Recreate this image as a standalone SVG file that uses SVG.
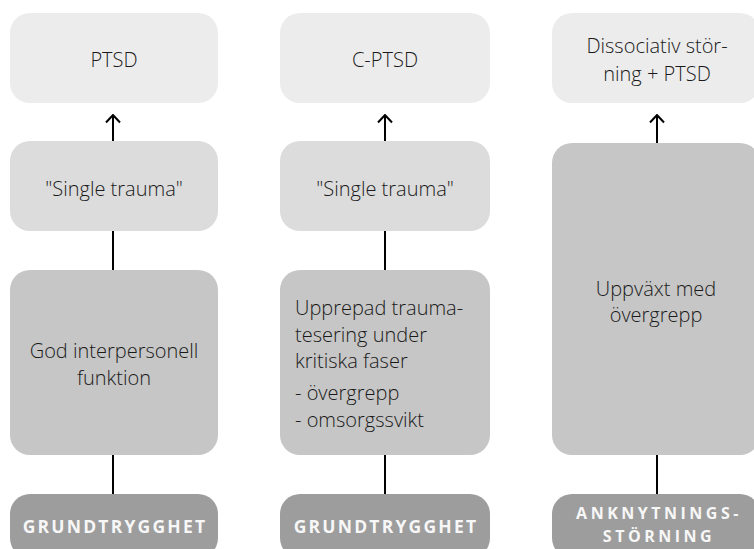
<svg xmlns="http://www.w3.org/2000/svg" width="754" height="549" viewBox="0 0 754 549">
<defs>
<style>
.t{font-family:"Open Sans","Liberation Sans",sans-serif;font-size:20px;fill:#1a1a1a;font-weight:300}
.c{text-anchor:middle}
.lab{font-family:"Open Sans","Liberation Sans",sans-serif;font-size:17.5px;font-weight:700;fill:#f7f7f7;letter-spacing:2.2px;text-anchor:middle}
.lab2{font-size:16px;letter-spacing:3.5px}
.b1{fill:#ececec}
.b2{fill:#dcdcdc}
.b3{fill:#c6c6c6}
.b4{fill:#9d9d9d}
.ln{stroke:#000;stroke-width:2;fill:none}
</style>
<marker id="ah" viewBox="0 0 10 16" refX="8.5" refY="8" markerWidth="10" markerHeight="16" markerUnits="userSpaceOnUse" orient="auto">
<path d="M1,1 L8.5,8 L1,15" fill="none" stroke="#000" stroke-width="2"/>
</marker>
</defs>
<rect width="754" height="549" fill="#fff"/>
<g id="connectors">
<line class="ln" x1="113" y1="141" x2="113" y2="115" marker-end="url(#ah)"/>
<line class="ln" x1="385" y1="141" x2="385" y2="115" marker-end="url(#ah)"/>
<line class="ln" x1="657" y1="143" x2="657" y2="115" marker-end="url(#ah)"/>
<line class="ln" x1="113" y1="231" x2="113" y2="270"/>
<line class="ln" x1="385" y1="231" x2="385" y2="270"/>
<line class="ln" x1="113" y1="455" x2="113" y2="494"/>
<line class="ln" x1="385" y1="455" x2="385" y2="494"/>
<line class="ln" x1="657" y1="455" x2="657" y2="494"/>
</g>
<g id="ptsd">
<rect class="b1" x="10" y="13" width="208" height="90" rx="20"/>
<text class="t c" x="114" y="67">PTSD</text>
</g>
<g id="cptsd">
<rect class="b1" x="280" y="13" width="210" height="90" rx="20"/>
<text class="t c" x="385" y="67">C-PTSD</text>
</g>
<g id="dissociativ">
<rect class="b1" x="552" y="13" width="208" height="90" rx="20"/>
<text class="t c" x="657" y="53">Dissociativ stör-</text>
<text class="t c" x="657" y="81">ning + PTSD</text>
</g>
<g id="single1">
<rect class="b2" x="10" y="141" width="208" height="90" rx="20"/>
<text class="t c" x="114" y="196">"Single trauma"</text>
</g>
<g id="single2">
<rect class="b2" x="280" y="141" width="210" height="90" rx="20"/>
<text class="t c" x="385" y="196">"Single trauma"</text>
</g>
<g id="god">
<rect class="b3" x="10" y="270" width="208" height="185" rx="20"/>
<text class="t c" x="114" y="358">God interpersonell</text>
<text class="t c" x="114" y="385">funktion</text>
</g>
<g id="upprepad">
<rect class="b3" x="280" y="270" width="210" height="185" rx="20"/>
<text class="t" x="295" y="315">Upprepad trauma-</text>
<text class="t" x="295" y="342">tesering under</text>
<text class="t" x="295" y="368">kritiska faser</text>
<text class="t" x="295" y="400">- övergrepp</text>
<text class="t" x="295" y="427">- omsorgssvikt</text>
</g>
<g id="uppvaxt">
<rect class="b3" x="552" y="143" width="208" height="312" rx="20"/>
<text class="t c" x="656" y="296">Uppväxt med</text>
<text class="t c" x="656" y="322">övergrepp</text>
</g>
<g id="grund1">
<rect class="b4" x="10" y="494" width="208" height="64" rx="20"/>
<text class="lab" x="115" y="533">GRUNDTRYGGHET</text>
</g>
<g id="grund2">
<rect class="b4" x="280" y="494" width="210" height="64" rx="20"/>
<text class="lab" x="386" y="533">GRUNDTRYGGHET</text>
</g>
<g id="ankn">
<rect class="b4" x="552" y="494" width="208" height="64" rx="20"/>
<text class="lab lab2" x="659" y="519">ANKNYTNINGS-</text>
<text class="lab lab2" x="659" y="542">STÖRNING</text>
</g>
</svg>
